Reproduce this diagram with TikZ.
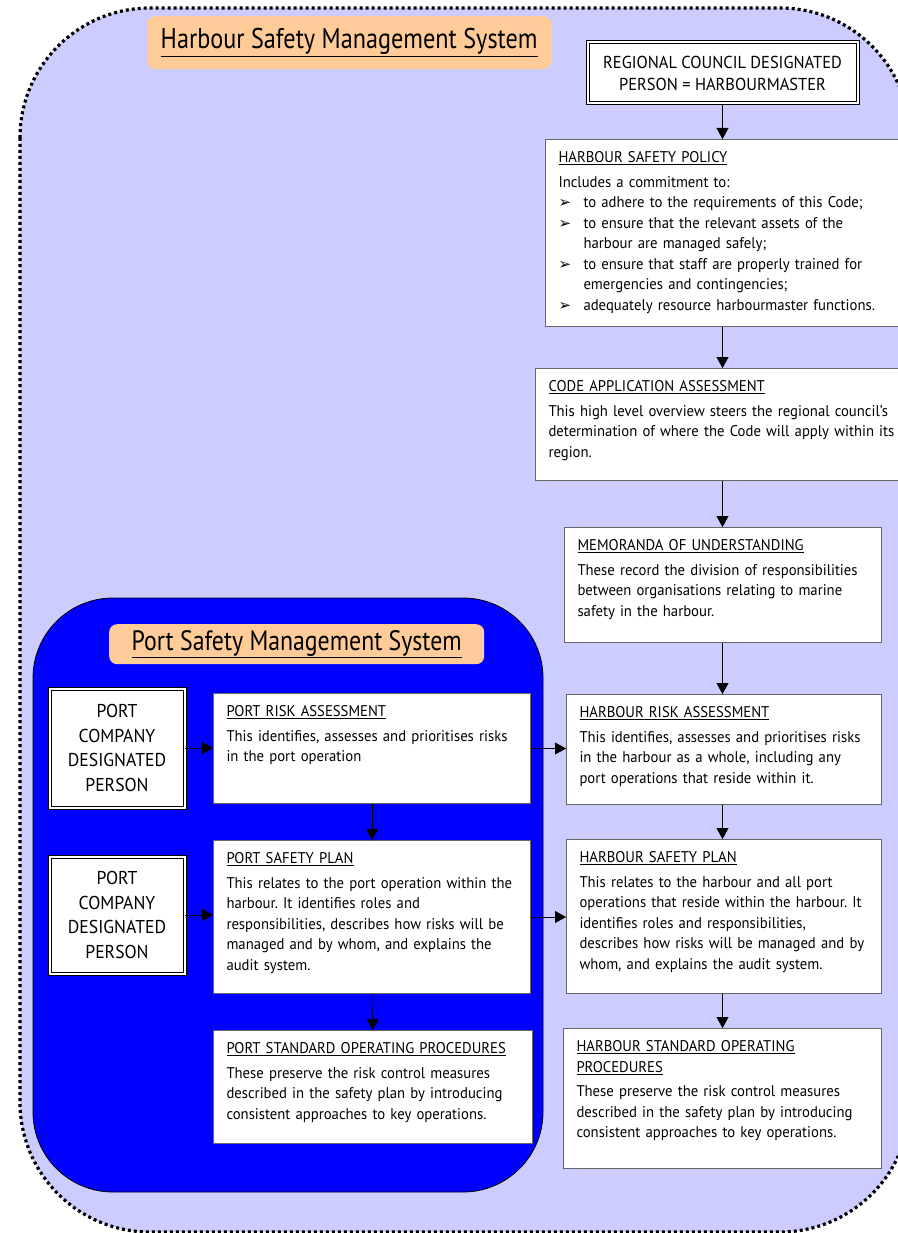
\documentclass[tikz,border=0pt]{standalone}
\usepackage{fontspec}
\setmainfont{PT Sans}[FakeStretch=0.95]
\newfontfamily\titlefont{PT Sans}[FakeStretch=0.85]
\newfontfamily\symfont{DejaVu Sans}
\usetikzlibrary{positioning, arrows.meta}
\frenchspacing

\definecolor{harbourbg}{HTML}{CCCCFF}
\definecolor{portblue}{HTML}{0000FF}
\definecolor{titlefill}{HTML}{FFCC99}

\newcommand{\bodyfont}{\fontsize{15.5pt}{20.5pt}\selectfont}
\newcommand{\hd}[1]{\strut\underline{#1}}
\newcommand{\boxtext}[3]{\vbox to #1{\vskip 9pt #2\par\vskip 4pt #3\vfil}}
\newcommand{\pitem}[1]{\par\hangindent=25pt\hangafter=1\noindent\makebox[25pt][l]{\symfont\fontsize{15pt}{15pt}\selectfont ➢}#1}

\tikzset{
	infobox/.style={
		rectangle,
		draw=black!60,
		line width=1pt,
		fill=white,
		anchor=north west,
		inner xsep=13pt,
		inner ysep=0pt,
		align=left,
		font=\bodyfont,
	},
	personbox/.style={
		rectangle,
		draw,
		double,
		double distance=2pt,
		line width=1pt,
		fill=white,
		anchor=north west,
		align=center,
		inner sep=0pt,
	},
	titlebox/.style={
		rectangle,
		fill=titlefill,
		rounded corners=8pt,
		anchor=north west,
		inner sep=0pt,
	},
}

\begin{document}
\begin{tikzpicture}[x=1pt, y=-1pt, >={Triangle[length=11pt,width=12pt]}]
		\useasboundingbox (0,0) rectangle (897,1233);
		% Background areas
		\draw [fill=harbourbg, line width=3.2pt, dash pattern=on 3pt off 3pt, rounded corners=130pt] (20,8) rectangle (910,1232);
		\draw [fill=portblue, line width=0.8pt, rounded corners=80pt] (33,598) rectangle (543,1192);
		
		% Titles
		\node [titlebox, minimum width=404pt, minimum height=53pt, font=\titlefont\fontsize{28.5pt}{30pt}\selectfont] (hsmstitle) at (147,16) {\underline{Harbour Safety Management System}};
		\node [titlebox, minimum width=375pt, minimum height=40pt, font=\titlefont\fontsize{28pt}{30pt}\selectfont] (psmstitle) at (109,624) {\underline{Port Safety Management System}};
		
		% Harbour column
		\node [personbox, minimum width=270pt, minimum height=61pt, font=\fontsize{17.3pt}{22pt}\selectfont] (council) at (587,42) {REGIONAL COUNCIL DESIGNATED\\PERSON = HARBOURMASTER};
		
		\node [infobox, text width=344pt] (policy) at (545,139) {\boxtext{187pt}{\hd{HARBOUR SAFETY POLICY}}{Includes a commitment to:
			\pitem{to adhere to the requirements of this Code;}
			\pitem{to ensure that the relevant assets of the\newline harbour are managed safely;}
			\pitem{to ensure that staff are properly trained for\newline emergencies and contingencies;}
			\pitem{adequately resource harbourmaster functions.}}};
		
		\node [infobox, text width=354pt] (code) at (535,368) {\boxtext{112pt}{\hd{CODE APPLICATION ASSESSMENT}}{This high level overview steers the regional council’s\\determination of where the Code will apply within its\\region.}};
		
		\node [infobox, text width=291pt] (memo) at (564,527) {\boxtext{115pt}{\hd{MEMORANDA OF UNDERSTANDING}}{These record the division of responsibilities\\between organisations relating to marine\\safety in the harbour.}};
		
		\node [infobox, text width=289pt] (hra) at (566,694) {\boxtext{110pt}{\hd{HARBOUR RISK ASSESSMENT}}{This identifies, assesses and prioritises risks\\in the harbour as a whole, including any\\port operations that reside within it.}};
		
		\node [infobox, text width=289pt] (hsp) at (566,839) {\boxtext{154pt}{\hd{HARBOUR SAFETY PLAN}}{This relates to the harbour and all port\\operations that reside within the harbour. It\\identifies roles and responsibilities,\\describes how risks will be managed and by\\whom, and explains the audit system.}};
		
		\node [infobox, text width=292pt] (hsop) at (563,1028) {\boxtext{140pt}{\hd{HARBOUR STANDARD OPERATING}\par\hd{PROCEDURES}}{These preserve the risk control measures\\described in the safety plan by introducing\\consistent approaches to key operations.}};
		
		% Port column
		\node [personbox, minimum width=135pt, minimum height=119pt, font=\fontsize{18.6pt}{24.5pt}\selectfont] (pcdp1) at (49,688) {PORT\\COMPANY\\DESIGNATED\\PERSON};
		\node [personbox, minimum width=135pt, minimum height=117pt, font=\fontsize{18.6pt}{24.5pt}\selectfont] (pcdp2) at (49,856) {PORT\\COMPANY\\DESIGNATED\\PERSON};
		
		\node [infobox, text width=291pt] (pra) at (213,693) {\boxtext{110pt}{\hd{PORT RISK ASSESSMENT}}{This identifies, assesses and prioritises risks\\in the port operation}};
		
		\node [infobox, text width=291pt] (psp) at (213,840) {\boxtext{153pt}{\hd{PORT SAFETY PLAN}}{This relates to the port operation within the\\harbour. It identifies roles and\\responsibilities, describes how risks will be\\managed and by whom, and explains the\\audit system.}};
		
		\node [infobox, text width=293pt] (psop) at (213,1030) {\boxtext{113pt}{\hd{PORT STANDARD OPERATING PROCEDURES}}{These preserve the risk control measures\\described in the safety plan by introducing\\consistent approaches to key operations.}};
		
		% Connectors
		\draw [->] (council) -- (council |- policy.north);
		\draw [->] (policy.south -| council) -- (code.north -| council);
		\draw [->] (code.south -| council) -- (memo.north -| council);
		\draw [->] (memo.south -| council) -- (hra.north -| council);
		\draw [->] (hra.south -| council) -- (hsp.north -| council);
		\draw [->] (hsp.south -| council) -- (hsop.north -| council);
		
		\draw [->] (pra) -- (psp);
		\draw [->] (psp) -- (psop);
		
		\draw [->] (pcdp1) -- (pcdp1 -| pra.west);
		\draw [->] (pcdp2) -- (pcdp2 -| psp.west);
		\draw [->] (pra) -- (pra -| hra.west);
		\draw [->] (psp) -- (psp -| hsp.west);

	\end{tikzpicture}
\end{document}
